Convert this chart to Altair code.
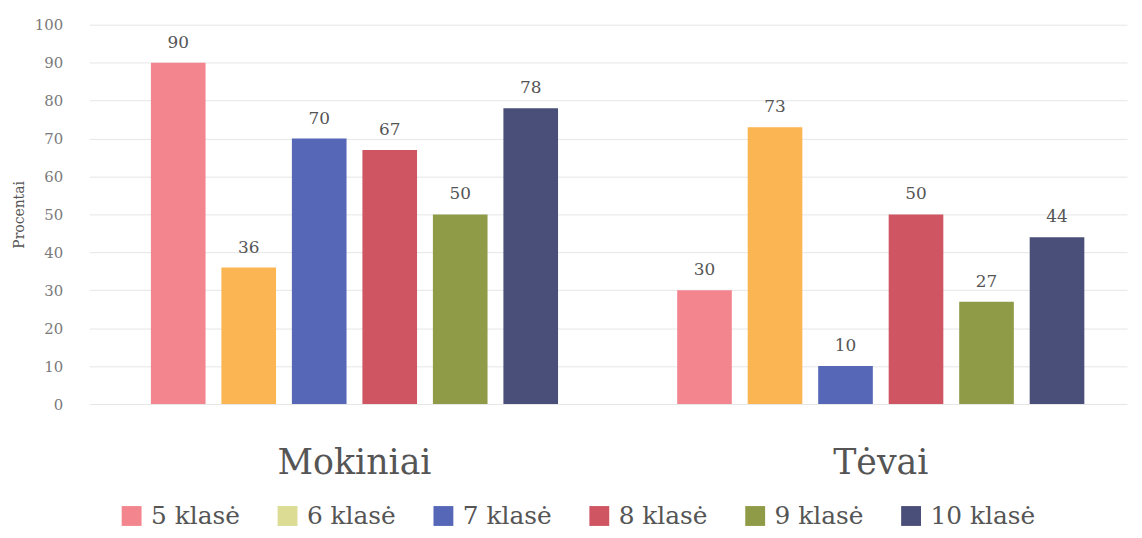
import altair as alt
import pandas as pd

groups = ["Mokiniai", "Tėvai"]
classes = ["5 klasė", "6 klasė", "7 klasė", "8 klasė", "9 klasė", "10 klasė"]
mokiniai = [90, 36, 70, 67, 50, 78]
tevai = [30, 73, 10, 50, 27, 44]
bar_colors = ["#f3858f", "#fbb552", "#5567b6", "#d05563", "#8f9b47", "#494f78"]
legend_colors = ["#f3858f", "#dcdc94", "#5567b6", "#d05563", "#8f9b47", "#494f78"]
y_ticks = [0, 10, 20, 30, 40, 50, 60, 70, 80, 90, 100]

rows = []
for g, vals in zip(groups, [mokiniai, tevai]):
    for c, v in zip(classes, vals):
        rows.append({"grupe": g, "klase": c, "procentai": v})
df = pd.DataFrame(rows)

FONT = "DejaVu Serif"
GREY = "#555555"

x = alt.X(
    "grupe:N", sort=groups, title=None,
    scale=alt.Scale(paddingInner=0.2264, paddingOuter=0.099, align=0.59),
    axis=alt.Axis(labelFontSize=35, labelColor=GREY, labelPadding=42, ticks=False,
                  domain=False, labelAngle=0, labelFont=FONT, grid=False),
)
xo = alt.XOffset("klase:N", sort=classes, scale=alt.Scale(paddingInner=0.225, paddingOuter=0))
y = alt.Y(
    "procentai:Q", scale=alt.Scale(domain=[0, 100]), title="Procentai",
    axis=alt.Axis(values=y_ticks, labelFontSize=15, labelColor="#7a7a7a", labelFont=FONT,
                  labelPadding=27, ticks=False, domain=False, gridColor="#e6e6e6",
                  titleFont=FONT, titleFontSize=14, titleFontWeight="normal",
                  titleColor=GREY, titlePadding=8),
)

base = alt.Chart(df)

bars = base.mark_bar().encode(
    x=x, xOffset=xo, y=y,
    color=alt.Color("klase:N", sort=classes,
                    scale=alt.Scale(domain=classes, range=bar_colors), legend=None),
)

labels = base.mark_text(dy=-20, fontSize=17, font=FONT, color=GREY).encode(
    x=x, xOffset=xo, y=y, text=alt.Text("procentai:Q"),
)

legend_layer = base.mark_square(opacity=0).encode(
    x=x, xOffset=xo, y=y,
    fill=alt.Fill("klase:N", sort=classes,
                  scale=alt.Scale(domain=classes, range=legend_colors),
                  legend=alt.Legend(orient="none", legendX=30, legendY=482,
                                    direction="horizontal", columns=6, title=None,
                                    symbolType="square", symbolSize=400,
                                    symbolOpacity=1, symbolStrokeWidth=0,
                                    labelFontSize=25, labelFont=FONT, labelColor=GREY,
                                    labelOffset=7, columnPadding=35, padding=0,
                                    labelLimit=300)),
)

chart = (
    alt.layer(bars, labels, legend_layer)
    .resolve_scale(color="independent", fill="independent")
    .properties(
        width=1045, height=382,
        autosize=alt.AutoSizeParams(type="none"),
        padding={"left": 82, "top": 15, "right": 7, "bottom": 125},
        background="white",
    )
    .configure(font=FONT)
    .configure_view(stroke=None)
)

chart.save("out.html", embed_options={"renderer": "svg", "actions": False})
